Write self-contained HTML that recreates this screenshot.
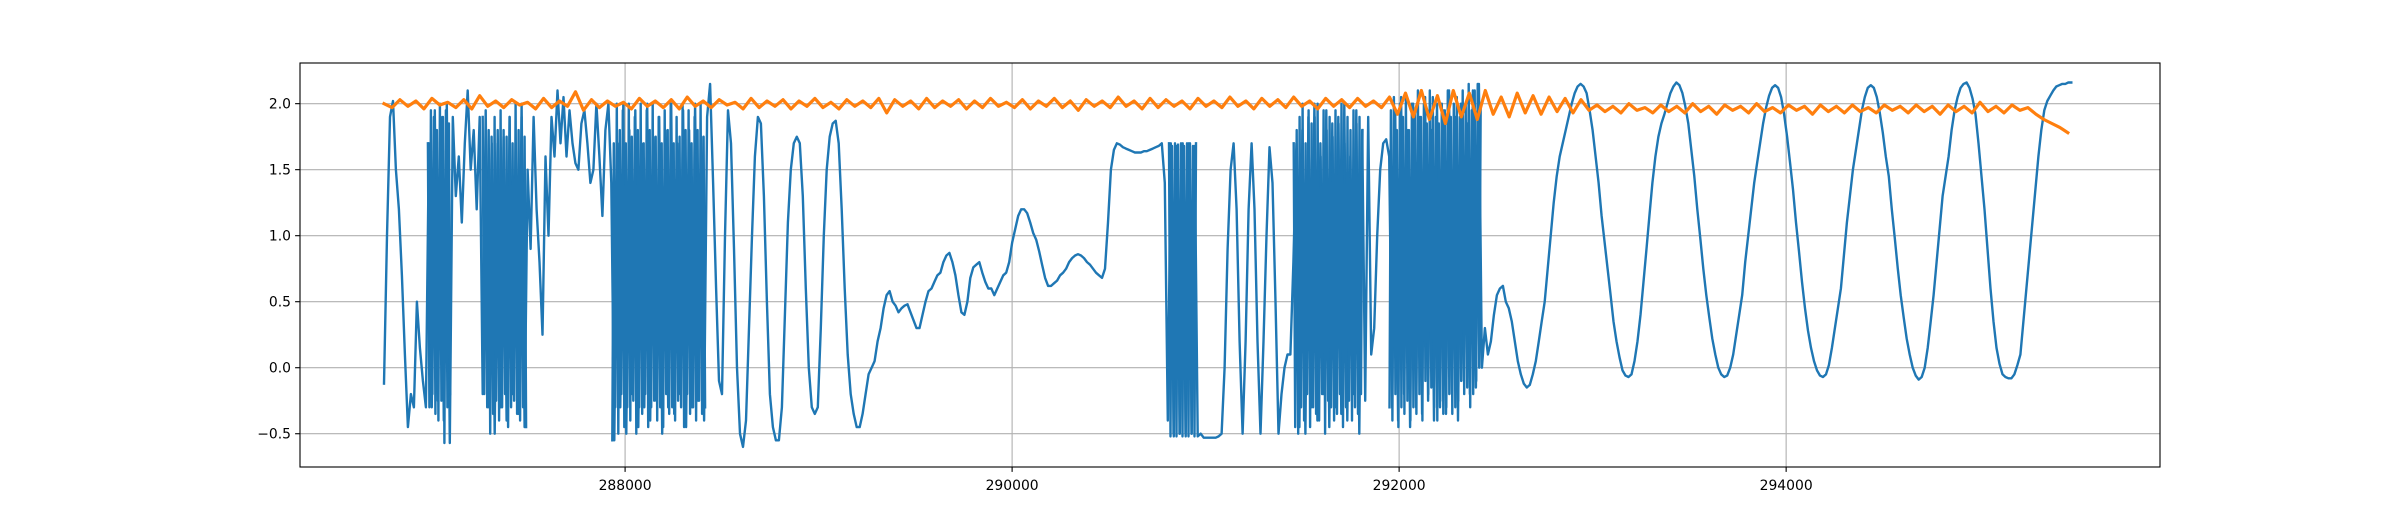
<!DOCTYPE html>
<html><head><meta charset="utf-8"><style>
html,body{margin:0;padding:0;background:#fff;}
svg{display:block;font-family:"DejaVu Sans","Liberation Sans",sans-serif;}
</style></head><body>
<svg id="chart" width="2400" height="525" viewBox="0 0 2400 525" xmlns="http://www.w3.org/2000/svg">
<rect x="0" y="0" width="2400" height="525" fill="#fff"/>
<g id="grid"></g>
<g id="series"></g>
<rect x="300" y="63" width="1860" height="404" fill="none" stroke="#000" stroke-width="1.1"/>
<g id="ticks"></g>
</svg>
<script>
const xTicks = [288000, 290000, 292000, 294000];
const xTickLabels = ["288000", "290000", "292000", "294000"];
const yTicks = [-0.5, 0, 0.5, 1.0, 1.5, 2.0];
const yTickLabels = ["\u22120.5", "0.0", "0.5", "1.0", "1.5", "2.0"];
const xDomain = [286320, 295932];
const yDomain = [-0.752, 2.308];

const blueStart = 286754;
const blueStep = 15.46;
const blueY = [
-0.12,1.0,1.9,2.02,1.5,1.2,0.7,0.1,-0.45,-0.2,-0.3,0.5,0.15,-0.1,-0.3,
1.7,-0.3,1.95,-0.25,1.9,-0.4,2.0,-0.57,
1.9,1.3,1.6,1.1,1.7,2.1,1.5,1.8,1.2,1.9,
-0.2,1.95,-0.3,1.7,-0.5,1.8,-0.3,1.75,-0.4,1.9,-0.2,1.7,-0.35,2.0,-0.45,
1.5,0.9,1.9,1.2,0.8,0.25,1.6,1.0,
1.9,1.6,2.1,1.7,2.05,1.6,1.95,
1.7,1.55,1.5,1.85,1.95,1.7,1.4,1.5,2.0,1.6,1.15,1.8,2.0,1.4,
-0.55,1.7,-0.3,2.0,-0.5,1.8,-0.2,1.95,-0.45,1.7,-0.3,2.0,-0.4,1.75,-0.25,1.9,-0.5,1.8,-0.3,2.0,-0.35,1.7,-0.2,1.95,-0.45,1.8,-0.3,2.0,-0.25,1.75,-0.4,1.9,
2.15,1.4,0.6,-0.1,-0.2,1.0,1.95,1.7,0.9,0.0,-0.5,-0.6,-0.4,0.3,1.0,1.6,1.9,1.85,1.3,0.5,-0.2,-0.45,-0.55,-0.55,-0.3,0.4,1.1,1.5,1.7,1.75,1.7,1.3,0.6,0.0,-0.3,-0.35,-0.3,0.3,1.0,1.5,1.75,1.85,1.87,1.7,1.2,0.6,0.1,-0.2,-0.35,-0.45,-0.45,-0.35,-0.2,-0.05,0.0,0.05,0.2,0.3,0.45,0.55,0.58,0.5,0.47,0.42,0.45,0.47,0.48,0.42,0.36,0.3,0.3,0.4,0.5,0.58,0.6,0.65,0.7,0.72,0.8,0.85,0.87,0.8,0.7,0.55,0.42,0.4,0.5,0.68,0.76,0.78,0.8,0.72,0.65,0.6,0.6,0.55,0.6,0.65,0.7,0.72,0.8,0.95,1.05,1.15,1.2,1.2,1.17,1.1,1.02,0.97,0.88,0.78,0.68,0.62,0.62,0.64,0.66,0.7,0.72,0.75,0.8,0.83,0.85,0.86,0.85,0.83,0.8,0.78,0.75,0.72,0.7,0.68,0.75,1.1,1.5,1.65,1.7,1.69,1.67,1.66,1.65,1.64,1.63,1.63,1.63,1.64,1.64,1.65,1.66,1.67,1.68,1.7,1.4,-0.4,
1.7,-0.52,1.68,-0.5,1.7,-0.52,1.7,-0.5,1.68,-0.52,
-0.5,-0.53,-0.53,-0.53,-0.53,-0.53,-0.52,-0.5,0.0,0.9,1.5,1.7,1.2,0.2,-0.5,0.2,1.2,1.7,1.2,0.2,-0.5,0.2,1.0,1.67,1.4,0.5,-0.5,-0.2,0.0,0.1,0.1,0.8,
1.7,-0.45,1.8,-0.5,1.9,-0.3,2.0,-0.4,1.7,-0.2,1.95,-0.45,1.85,-0.3,1.9,-0.35,2.0,-0.4,1.6,-0.2,1.95,-0.5,1.8,-0.25,1.9,
0.1,0.3,1.0,1.5,1.7,1.73,1.6,
-0.3,1.95,-0.4,2.05,-0.2,1.8,-0.45,2.0,-0.3,1.9,-0.35,2.05,-0.25,1.8,-0.4,2.0,-0.3,1.95,-0.35,2.1,-0.2,1.9,-0.4,2.0,-0.1,1.85,-0.2,2.1,-0.15,2.15,0.0,
0.3,0.1,0.2,0.4,0.55,0.6,0.62,0.5,0.45,0.35,0.2,0.05,-0.05,-0.12,-0.15,-0.13,-0.05,0.05,0.2,0.35,0.5,0.75,1.0,1.25,1.45,1.6,1.7,1.8,1.9,2.0,2.08,2.13,2.15,2.13,2.08,1.95,1.8,1.6,1.4,1.15,0.95,0.75,0.55,0.35,0.2,0.08,-0.02,-0.06,-0.07,-0.05,0.05,0.2,0.4,0.65,0.9,1.15,1.4,1.6,1.75,1.85,1.92,2.0,2.08,2.13,2.16,2.14,2.08,1.98,1.85,1.65,1.45,1.2,0.98,0.75,0.55,0.38,0.22,0.1,0.0,-0.05,-0.07,-0.06,0.0,0.1,0.25,0.4,0.55,0.8,1.0,1.2,1.4,1.55,1.7,1.85,1.97,2.06,2.12,2.14,2.12,2.05,1.92,1.75,1.55,1.35,1.1,0.88,0.65,0.45,0.28,0.15,0.05,-0.02,-0.06,-0.07,-0.05,0.02,0.15,0.3,0.45,0.6,0.85,1.1,1.3,1.5,1.65,1.8,1.95,2.05,2.12,2.14,2.12,2.05,1.93,1.78,1.6,1.45,1.2,0.98,0.75,0.55,0.38,0.22,0.1,0.0,-0.06,-0.09,-0.07,0.0,0.15,0.35,0.55,0.8,1.05,1.3,1.45,1.6,1.8,1.95,2.05,2.12,2.15,2.16,2.12,2.04,1.92,1.7,1.45,1.2,0.9,0.6,0.35,0.15,0.03,-0.05,-0.07,-0.08,-0.08,-0.05,0.02,0.1,0.35,0.6,0.85,1.1,1.35,1.6,1.8,1.95,2.02,2.06,2.1,2.13,2.14,2.15,2.15,2.16,2.16
];

// dense fast-switching bursts of the blue series (finer sampling)
const burstStep = 7.73;
const burstStarts = [286981, 287264, 287934, 290811, 291455, 291950];
const burst1 = [1.7,-0.3,1.95,-0.2,1.9,-0.35,1.8,-0.4,2.0,-0.25,1.9,-0.57,1.95,-0.3,1.85,-0.2];
const burst2 = [1.9,-0.2,1.7,-0.3,1.8,-0.5,1.75,-0.35,1.9,-0.25,1.7,-0.4,1.95,-0.3,1.8,-0.2,1.75,-0.45,1.9,-0.3,1.7,-0.25,2.0,-0.35,1.8,-0.4,1.9,-0.3,1.75,-0.45];
const burst3 = [-0.55,1.7,-0.3,2.0,-0.5,1.8,-0.2,1.95,-0.45,1.7,-0.3,2.0,-0.4,1.75,-0.25,1.9,-0.5,1.8,-0.3,2.0,-0.35,1.7,-0.2,1.95,-0.45,1.8,-0.3,2.0,-0.25,1.75,-0.4,1.9,-0.3,1.7,-0.45,1.95,-0.2,1.8,-0.35,2.0,-0.3,1.7,-0.4,1.9,-0.25,1.75,-0.3,2.0,-0.45,1.8,-0.2,1.95,-0.35,1.7,-0.3,1.9,-0.4,1.8,-0.25,2.0,-0.35,1.75,-0.3];
const burst4 = [1.7,-0.52,1.68,-0.5,1.7,-0.52,1.69,-0.5,1.7,-0.52,1.68,-0.5,1.7,-0.52,1.7,-0.5,1.68,-0.52,1.7];
const burst5 = [1.7,-0.45,1.8,-0.5,1.9,-0.3,2.0,-0.4,1.7,-0.2,1.95,-0.45,1.85,-0.3,1.9,-0.35,2.0,-0.4,1.6,-0.2,1.95,-0.5,1.8,-0.25,1.9,-0.3,1.75,-0.4,1.95,-0.35,1.85,-0.2,2.0,-0.45,1.7,-0.3,1.9,-0.25,1.8,-0.4,1.95,-0.3,1.85,-0.35,1.9,-0.2,1.8];
const burst6 = [-0.3,1.95,-0.4,2.05,-0.2,1.8,-0.45,2.0,-0.3,1.9,-0.35,2.05,-0.25,1.8,-0.4,2.0,-0.3,1.95,-0.35,2.1,-0.2,1.9,-0.4,2.0,-0.1,1.85,-0.2,2.1,-0.15,2.05,-0.3,1.9,-0.4,1.85,-0.25,2.0,-0.35,1.95,-0.3,2.1,-0.2,1.9,-0.35,2.0,-0.3,2.05,-0.25,1.9,-0.1,2.1,-0.2,2.0,-0.15,2.15,-0.3,1.95,-0.2,2.1,-0.1,2.15,0.0,2.0];

const orangeStart = 286754;
const orangeStep = 41.24;
const orangeY = [
2.0,1.97,2.03,1.98,2.02,1.96,2.04,1.99,2.01,1.97,
2.03,1.96,2.06,1.98,2.02,1.97,2.03,1.99,2.01,1.96,
2.04,1.97,2.02,1.98,2.09,1.95,2.03,1.97,2.02,1.98,
2.01,1.96,2.04,1.98,2.02,1.97,2.03,1.96,2.05,1.98,
2.02,1.97,2.03,1.99,2.01,1.96,2.04,1.97,2.02,1.98,
2.03,1.96,2.02,1.98,2.04,1.97,2.01,1.96,2.03,1.98,
2.02,1.97,2.04,1.93,2.03,1.98,2.02,1.96,2.04,1.97,
2.02,1.98,2.03,1.96,2.02,1.97,2.04,1.98,2.01,1.97,
2.03,1.96,2.02,1.98,2.04,1.97,2.02,1.95,2.03,1.98,
2.02,1.97,2.05,1.98,2.02,1.96,2.04,1.97,2.03,1.98,
2.02,1.96,2.04,1.98,2.02,1.97,2.05,1.98,2.02,1.96,
2.04,1.98,2.03,1.97,2.05,1.98,2.02,1.96,2.04,1.98,
2.03,1.97,2.04,1.98,2.02,1.97,
2.05,1.92,2.08,1.9,2.1,1.88,2.06,1.85,2.1,1.9,2.08,1.88,2.1,1.92,2.05,1.9,2.08,1.93,2.06,1.92,2.05,1.94,2.04,1.93,2.03,1.95,
1.99,1.94,1.98,1.93,2.0,1.95,1.97,1.93,1.99,1.94,
1.98,1.93,2.0,1.94,1.98,1.92,1.99,1.95,1.98,1.93,
2.0,1.94,1.97,1.93,1.99,1.95,1.98,1.92,1.99,1.94,
1.98,1.93,1.99,1.94,1.97,1.93,1.99,1.95,1.98,1.93,
1.99,1.94,1.98,1.92,1.99,1.94,1.98,1.93,2.01,1.94,
1.98,1.93,1.99,1.95,
1.97,1.92,1.88,1.85,1.82,1.78
];

const L = 300, R = 2160, T = 63, B = 467;
function xScale(v) { return L + (v - xDomain[0]) / (xDomain[1] - xDomain[0]) * (R - L); }
function yScale(v) { return B - (v - yDomain[0]) / (yDomain[1] - yDomain[0]) * (B - T); }
const NS = "http://www.w3.org/2000/svg";
const grid = document.getElementById('grid');
const ticks = document.getElementById('ticks');
const series = document.getElementById('series');

xTicks.forEach((t, i) => {
  const x = xScale(t);
  const g = document.createElementNS(NS, 'line');
  g.setAttribute('x1', x); g.setAttribute('x2', x); g.setAttribute('y1', T); g.setAttribute('y2', B);
  g.setAttribute('stroke', '#b0b0b0'); g.setAttribute('stroke-width', '1.1');
  
  
  grid.appendChild(g);
  const tk = document.createElementNS(NS, 'line');
  tk.setAttribute('x1', x); tk.setAttribute('x2', x); tk.setAttribute('y1', B); tk.setAttribute('y2', B + 4.9);
  tk.setAttribute('stroke', '#000'); tk.setAttribute('stroke-width', '1.1');
  
  
  ticks.appendChild(tk);
  const tx = document.createElementNS(NS, 'text');
  tx.setAttribute('x', x); tx.setAttribute('y', B + 23);
  tx.setAttribute('text-anchor', 'middle'); tx.setAttribute('font-size', '13.9');
  tx.textContent = xTickLabels[i];
  
  
  ticks.appendChild(tx);
});
yTicks.forEach((t, i) => {
  const y = yScale(t);
  const g = document.createElementNS(NS, 'line');
  g.setAttribute('x1', L); g.setAttribute('x2', R); g.setAttribute('y1', y); g.setAttribute('y2', y);
  g.setAttribute('stroke', '#b0b0b0'); g.setAttribute('stroke-width', '1.1');
  
  
  grid.appendChild(g);
  const tk = document.createElementNS(NS, 'line');
  tk.setAttribute('x1', L - 4.9); tk.setAttribute('x2', L); tk.setAttribute('y1', y); tk.setAttribute('y2', y);
  tk.setAttribute('stroke', '#000'); tk.setAttribute('stroke-width', '1.1');
  
  
  ticks.appendChild(tk);
  const tx = document.createElementNS(NS, 'text');
  tx.setAttribute('x', L - 9); tx.setAttribute('y', y + 5);
  tx.setAttribute('text-anchor', 'end'); tx.setAttribute('font-size', '13.9');
  tx.textContent = yTickLabels[i];
  
  
  ticks.appendChild(tx);
});

function drawLine(start, step, vals, color, width, name) {
  const pts = vals.map((v, i) => xScale(start + i * step).toFixed(1) + ',' + yScale(v).toFixed(1)).join(' ');
  const p = document.createElementNS(NS, 'polyline');
  p.setAttribute('points', pts);
  p.setAttribute('fill', 'none'); p.setAttribute('stroke', color);
  p.setAttribute('stroke-width', width); p.setAttribute('stroke-linejoin', 'round'); p.setAttribute('stroke-linecap', 'square');
  
  
  series.appendChild(p);
}
drawLine(blueStart, blueStep, blueY, '#1f77b4', '2.4', 'blue-series-line');
const bursts = [burst1, burst2, burst3, burst4, burst5, burst6];
bursts.forEach((b, k) => {
  drawLine(burstStarts[k], burstStep, b, '#1f77b4', '2.4', 'blue-series-burst');
});
drawLine(orangeStart, orangeStep, orangeY, '#ff7f0e', '3.2', 'orange-series-line');
</script>
</body></html>
